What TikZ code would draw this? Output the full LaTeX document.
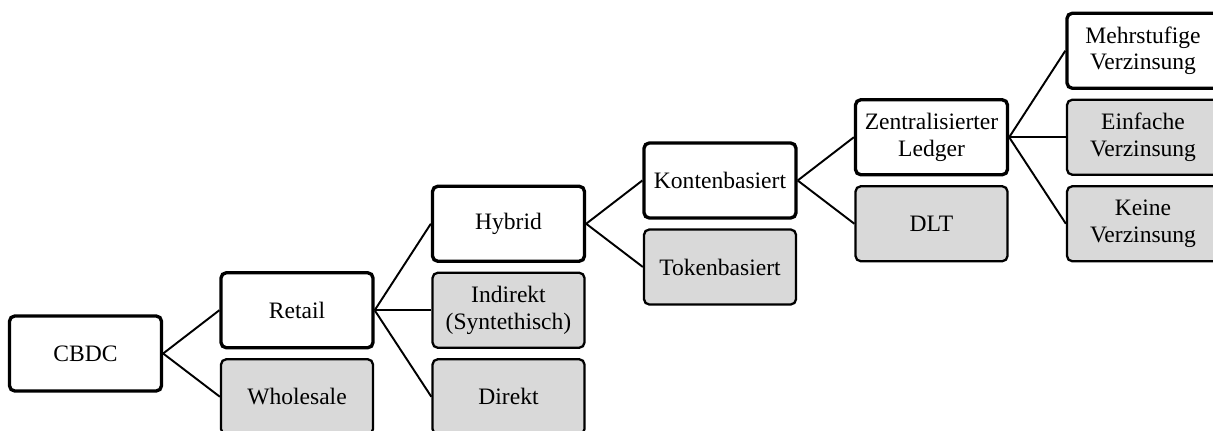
\documentclass[tikz,border=0pt]{standalone}
\usepackage{fontspec}
\setmainfont{Liberation Serif}
\definecolor{altgray}{RGB}{217,217,217}

\begin{document}
\begin{tikzpicture}[grow'=right, level distance=4.23cm, sibling distance=1.73cm,
        edge from parent/.style={draw, line width=1.1pt},
        parent anchor=east, child anchor=west]
        \tikzstyle{every node}=[rounded corners=3pt, minimum width=3.04cm, minimum height=1.5cm,
            inner sep=1pt, align=center, font=\fontsize{13.4}{15.3}\selectfont]
        \tikzstyle{main}=[draw, fill=white, line width=1.9pt]
        \tikzstyle{alt}=[draw, fill=altgray, line width=1.3pt]
        \useasboundingbox (0,0) rectangle (24.26,8.6);
        \node[main] (cbdc) at (1.71,1.53) {CBDC}
            child {node[main] (retail) {Retail}
                child {node[main] (hybrid) {Hybrid}
                    child {node[main] (konten) {Kontenbasiert}
                        child {node[main] (zentral) {Zentralisierter\\Ledger}
                            child {node[main] (mehrstufig) {Mehrstufige\\Verzinsung}}
                            child {node[alt] (einfach) {Einfache\\Verzinsung}}
                            child {node[alt] (keine) {Keine\\Verzinsung}}
                        }
                        child {node[alt] (dlt) {DLT}}
                    }
                    child {node[alt] (token) {Tokenbasiert}}
                }
                child {node[alt] (indirekt) {Indirekt\\(Syntethisch)}}
                child {node[alt] (direkt) {Direkt}}
            }
            child {node[alt] (wholesale) {Wholesale}};
    \end{tikzpicture}
\end{document}
